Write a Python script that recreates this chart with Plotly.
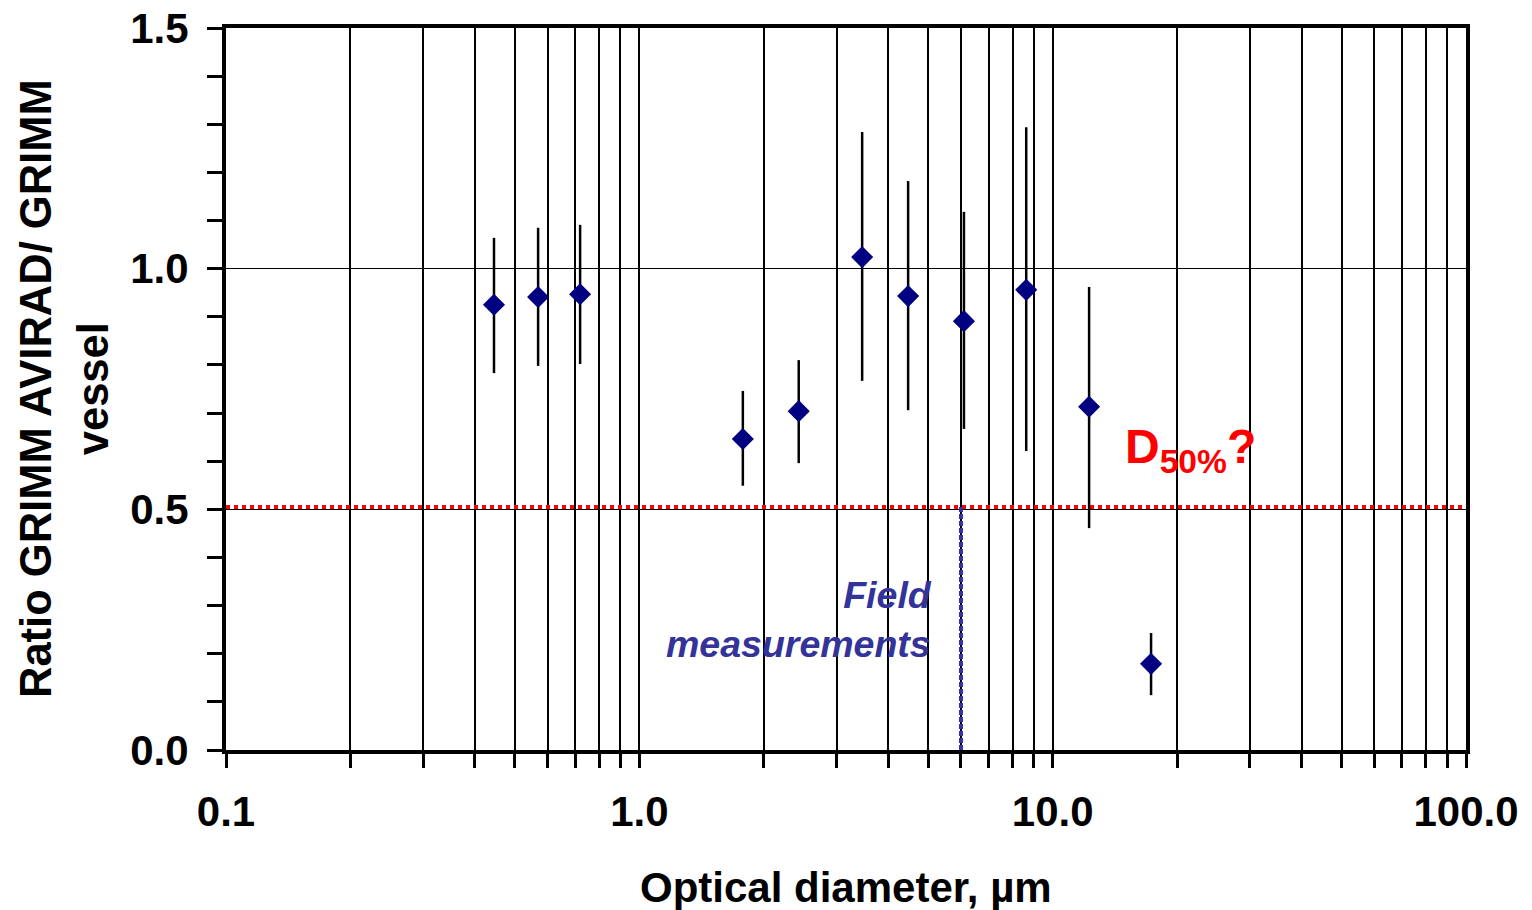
import plotly.graph_objects as go
import math

# Data
diameter = [0.445, 0.569, 0.719, 1.78, 2.43, 3.46, 4.47, 6.1, 8.63, 12.25, 17.3]
ratio = [0.925, 0.941, 0.947, 0.646, 0.704, 1.024, 0.943, 0.891, 0.956, 0.713, 0.179]
ratio_upper = [1.064, 1.085, 1.091, 0.746, 0.810, 1.284, 1.182, 1.118, 1.294, 0.962, 0.243]
ratio_lower = [0.783, 0.798, 0.802, 0.549, 0.596, 0.767, 0.706, 0.667, 0.621, 0.461, 0.114]

d50_level = 0.505
field_cutoff = 6.0
x_range = [0.1, 100.0]
x_major = [0.1, 1.0, 10.0, 100.0]
x_major_text = ["0.1", "1.0", "10.0", "100.0"]
x_minor = [m * d for d in [0.1, 1.0, 10.0] for m in range(2, 10)]
y_major = [0, 0.5, 1.0, 1.5]
y_major_text = ["0.0", "0.5", "1.0", "1.5"]
y_minor = [0.1, 0.2, 0.3, 0.4, 0.6, 0.7, 0.8, 0.9, 1.1, 1.2, 1.3, 1.4]

err_plus = [u - v for u, v in zip(ratio_upper, ratio)]
err_minus = [v - l for v, l in zip(ratio, ratio_lower)]

FONT = "Arial, Liberation Sans, sans-serif"
BLUE_TXT = "#333399"

fig = go.Figure()

# D50 reference line
fig.add_trace(go.Scatter(
    x=x_range, y=[d50_level, d50_level], mode="lines",
    line=dict(color="#ff0000", width=4, dash="dot"),
    hoverinfo="skip", showlegend=False, cliponaxis=False))

# field measurement cutoff line
fig.add_trace(go.Scatter(
    x=[field_cutoff, field_cutoff], y=[0, d50_level], mode="lines",
    line=dict(color="#3333aa", width=4, dash="5px,2px"),
    hoverinfo="skip", showlegend=False))

# data points
fig.add_trace(go.Scatter(
    x=diameter, y=ratio, mode="markers",
    marker=dict(symbol="diamond", size=17, color="#000080"),
    error_y=dict(type="data", symmetric=False, array=err_plus, arrayminus=err_minus,
                 color="black", thickness=2.5, width=0),
    showlegend=False))

fig.update_layout(
    width=1532, height=910,
    margin=dict(l=226, r=66, t=28, b=160, autoexpand=False),
    plot_bgcolor="white", paper_bgcolor="white",
    font=dict(family=FONT, size=42, color="black"),
    showlegend=False,
)

fig.update_xaxes(
    type="log", range=[math.log10(x_range[0]), math.log10(x_range[1])],
    tickmode="array", tickvals=x_major, ticktext=x_major_text,
    tickfont=dict(family=FONT, size=42, color="black", weight="bold"),
    ticks="outside", ticklen=14, tickwidth=3, tickcolor="black",
    ticklabelstandoff=8, automargin=False,
    showgrid=True, gridcolor="black", gridwidth=1.5,
    minor=dict(tickmode="array", tickvals=x_minor, ticks="outside", ticklen=14,
               tickwidth=3, tickcolor="black", showgrid=True, gridcolor="black", gridwidth=2),
    showline=True, linecolor="black", linewidth=4, mirror=True,
    zeroline=False,
)

fig.update_yaxes(
    range=[0, 1.5], tickmode="array", tickvals=y_major, ticktext=y_major_text,
    tickfont=dict(family=FONT, size=42, color="black", weight="bold"),
    ticks="outside", ticklen=15, tickwidth=3, tickcolor="black",
    ticklabelstandoff=10, automargin=False,
    showgrid=True, gridcolor="black", gridwidth=1,
    minor=dict(tickmode="array", tickvals=y_minor,
               ticks="outside", ticklen=15, tickwidth=3, tickcolor="black", showgrid=False),
    showline=True, linecolor="black", linewidth=4, mirror=True,
    zeroline=False,
)

annotations = [
    dict(text="<b>Optical diameter, µm</b>", xref="paper", yref="paper",
         x=0.5, y=-0.19, xanchor="center", yanchor="middle", showarrow=False,
         font=dict(family=FONT, size=42, color="black")),
    dict(text="<b>Ratio GRIMM AVIRAD/ GRIMM<br>vessel</b>", xref="paper", yref="paper",
         x=(64 - 226) / 1240, y=0.5, xanchor="center", yanchor="middle", textangle=-90,
         showarrow=False, font=dict(family=FONT, size=43.5, color="black")),
    dict(text="<b><i>Field<br>measurements</i></b>", xref="x", yref="y",
         x=math.log10(5.17), y=0.272, xanchor="right", yanchor="middle", align="right",
         showarrow=False, font=dict(family=FONT, size=37.5, color=BLUE_TXT)),
    dict(text="<b>D<sub>50%</sub>?</b>", xref="x", yref="y",
         x=math.log10(14.8), y=0.623, xanchor="left", yanchor="middle",
         showarrow=False, font=dict(family=FONT, size=48, color="#ff0000")),
]
fig.update_layout(annotations=annotations)

fig.write_html("out.html")
